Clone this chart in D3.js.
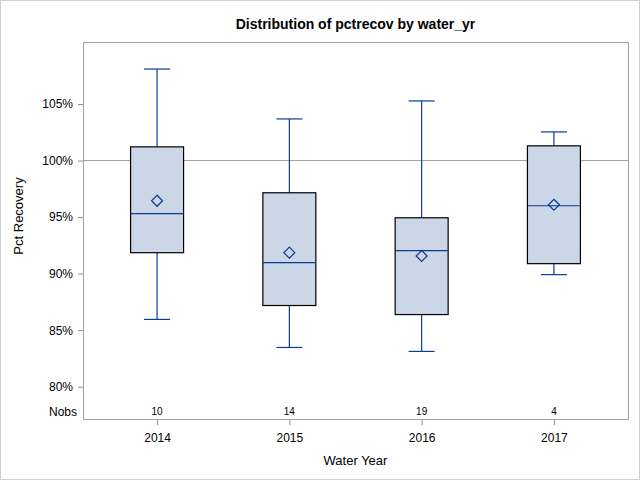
<!doctype html>
<html lang="en">
<head>
<meta charset="utf-8">
<title>Distribution of pctrecov by water_yr</title>
<script src="https://cdn.jsdelivr.net/npm/d3@7"></script>
<style>
  body { margin: 0; background: #fff; }
  svg { display: block; font-family: "Liberation Sans", Arial, sans-serif; }
</style>
</head>
<body>
<svg id="chart"></svg>
<script>
// values (percent)
var years  = ["2014", "2015", "2016", "2017"];
var nobs   = [10, 14, 19, 4];
var mins   = [85.95, 83.47, 83.12, 89.91];
var q1s    = [91.85, 87.18, 86.38, 90.88];
var medians= [95.30, 90.97, 92.03, 96.00];
var q3s    = [101.21, 97.15, 94.94, 101.30];
var maxs   = [108.09, 103.68, 105.27, 102.53];
var means  = [96.44, 91.85, 91.56, 96.09];
var yTicks = [80, 85, 90, 95, 100, 105];
var refLine = 100;

var W = 640, H = 480;
var frame = {left: 83, right: 628, top: 42, bottom: 419};
var blue = "#0c3b96";

var svg = d3.select("#chart").attr("width", W).attr("height", H);

// outer border
svg.append("rect").attr("x", 0.5).attr("y", 0.5)
  .attr("width", W - 1).attr("height", H - 1)
  .attr("fill", "#fff").attr("stroke", "#d0d0d0");

var x = d3.scalePoint().domain(years)
  .range([frame.left, frame.right]).padding(0.56);

var y = d3.scaleLinear().domain([80, 105]).range([386.7, 104]);

var data = years.map(function(d, i) {
  return {year: d, n: nobs[i], min: mins[i], q1: q1s[i], med: medians[i],
          q3: q3s[i], max: maxs[i], mean: means[i]};
});

// title
svg.append("text")
  .attr("x", (frame.left + frame.right) / 2).attr("y", 29)
  .attr("text-anchor", "middle")
  .attr("font-size", 14).attr("font-weight", "bold")
  .text("Distribution of pctrecov by water_yr");

// y axis
var yAxis = d3.axisLeft(y).tickValues(yTicks)
  .tickFormat(function(d) { return d + "%"; })
  .tickSize(5).tickPadding(5);
var gy = svg.append("g").attr("transform", "translate(" + frame.left + ",0)").call(yAxis);
gy.select(".domain").remove();
gy.selectAll(".tick line").attr("stroke", "#909090");
gy.selectAll(".tick text").attr("font-size", 12).attr("fill", "#000")
  .attr("font-family", "Liberation Sans, Arial, sans-serif");

// x axis
var xAxis = d3.axisBottom(x).tickSize(6).tickPadding(8);
var gx = svg.append("g").attr("transform", "translate(0," + frame.bottom + ")").call(xAxis);
gx.select(".domain").remove();
gx.selectAll(".tick line").attr("stroke", "#909090");
gx.selectAll(".tick text").attr("font-size", 12).attr("fill", "#000")
  .attr("font-family", "Liberation Sans, Arial, sans-serif");

// axis labels
svg.append("text")
  .attr("x", (frame.left + frame.right) / 2).attr("y", 464.5)
  .attr("text-anchor", "middle").attr("font-size", 13)
  .text("Water Year");

svg.append("text")
  .attr("transform", "translate(23,216) rotate(-90)")
  .attr("text-anchor", "middle").attr("font-size", 13)
  .text("Pct Recovery");

// reference line
svg.append("line")
  .attr("x1", frame.left).attr("x2", frame.right)
  .attr("y1", y(refLine)).attr("y2", y(refLine))
  .attr("stroke", "#a0a0a0").attr("stroke-width", 1);

var boxW = 53, capW = 26;
var boxes = svg.append("g").selectAll("g").data(data).enter().append("g")
  .attr("transform", function(d) { return "translate(" + x(d.year) + ",0)"; });

// whiskers
boxes.append("line").attr("x1", 0).attr("x2", 0)
  .attr("y1", function(d) { return y(d.max); })
  .attr("y2", function(d) { return y(d.q3); })
  .attr("stroke", blue).attr("stroke-width", 1.2);
boxes.append("line").attr("x1", 0).attr("x2", 0)
  .attr("y1", function(d) { return y(d.q1); })
  .attr("y2", function(d) { return y(d.min); })
  .attr("stroke", blue).attr("stroke-width", 1.2);
boxes.append("line").attr("x1", -capW / 2).attr("x2", capW / 2)
  .attr("y1", function(d) { return y(d.max); })
  .attr("y2", function(d) { return y(d.max); })
  .attr("stroke", blue).attr("stroke-width", 1.2);
boxes.append("line").attr("x1", -capW / 2).attr("x2", capW / 2)
  .attr("y1", function(d) { return y(d.min); })
  .attr("y2", function(d) { return y(d.min); })
  .attr("stroke", blue).attr("stroke-width", 1.2);

// box
boxes.append("rect")
  .attr("x", -boxW / 2).attr("width", boxW)
  .attr("y", function(d) { return y(d.q3); })
  .attr("height", function(d) { return y(d.q1) - y(d.q3); })
  .attr("fill", "#cbd6e6").attr("stroke", "#000").attr("stroke-width", 1.2);

// median
boxes.append("line").attr("x1", -boxW / 2).attr("x2", boxW / 2)
  .attr("y1", function(d) { return y(d.med); })
  .attr("y2", function(d) { return y(d.med); })
  .attr("stroke", blue).attr("stroke-width", 1.2);

// mean diamond
boxes.append("path")
  .attr("d", function(d) {
    var cy = y(d.mean), r = 5.5;
    return "M0," + (cy - r) + "L" + r + "," + cy + "L0," + (cy + r) + "L" + (-r) + "," + cy + "Z";
  })
  .attr("fill", "none").attr("stroke", blue).attr("stroke-width", 1.2);

// Nobs row
svg.append("text")
  .attr("x", 77).attr("y", 416).attr("text-anchor", "end")
  .attr("font-size", 12).text("Nobs");
svg.append("g").selectAll("text").data(data).enter().append("text")
  .attr("x", function(d) { return x(d.year); }).attr("y", 415)
  .attr("text-anchor", "middle").attr("font-size", 10)
  .text(function(d) { return d.n; });

// plot frame
svg.append("rect")
  .attr("x", frame.left + 0.5).attr("y", frame.top + 0.5)
  .attr("width", frame.right - frame.left).attr("height", frame.bottom - frame.top)
  .attr("fill", "none").attr("stroke", "#a0a0a0");
</script>
</body>
</html>
